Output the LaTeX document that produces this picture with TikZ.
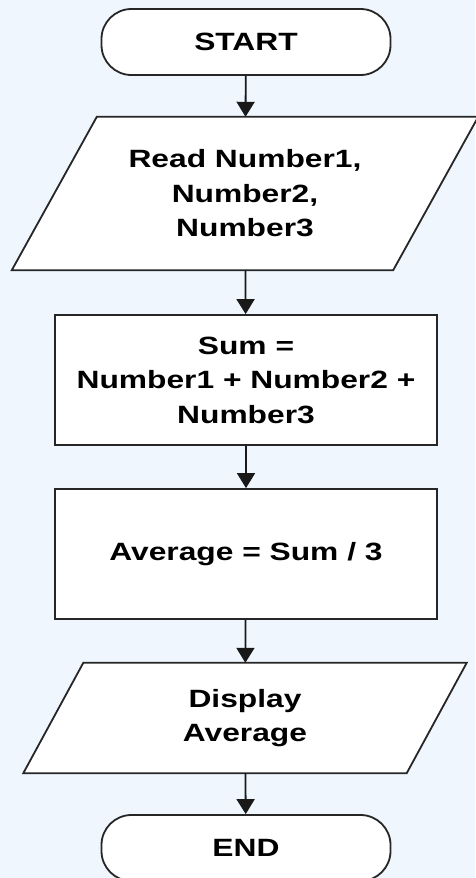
\documentclass[tikz,border=0pt]{standalone}
\usepackage{fontspec}
\setmainfont{Liberation Sans}[FakeStretch=1.27]
\usetikzlibrary{arrows.meta,backgrounds}
\definecolor{pagebg}{RGB}{239,246,253}
\tikzset{
    frame/.style={draw=black!85, line width=1.8pt, fill=white},
    flow/.style={align=center, inner sep=0pt,
        font=\fontsize{25}{34.5}\selectfont\bfseries},
    terminal/.style={flow, frame, rectangle, rounded corners=30pt,
        minimum width=289pt, minimum height=66pt},
    process/.style={flow, frame, rectangle, minimum width=382pt, minimum height=130pt},
    inout/.style={flow, rectangle},
    flowline/.style={draw=black!90, line width=1.8pt,
        -{Triangle[width=18pt,length=15pt]}}
}
% slanted in/out frame behind a node: #1 node, #2 half the slant
\newcommand{\ioframe}[2]{%
    \draw[frame] ([xshift=#2]#1.north west) -- ([xshift=#2]#1.north east)
        -- ([xshift=-#2]#1.south east) -- ([xshift=-#2]#1.south west) -- cycle;%
}

\begin{document}
\begin{tikzpicture}[x=1pt,y=1pt]
            % page and background
            \useasboundingbox (0,0) rectangle (475,-878);
            \clip (0,0) rectangle (475,-878);
            \begin{scope}[on background layer]
                \fill[pagebg] (0,0) rectangle (475,-878);
            \end{scope}
            % steps
            \node[terminal] (start) at (246,-42) {START};
            \node[inout, minimum width=381pt, minimum height=153pt] (read) at (245,-193.5)
                {Read Number1,\\ Number2,\\ Number3};
            \node[process] (sum) at (246,-380) {Sum =\\ Number1 + Number2 +\\ Number3};
            \node[process] (avg) at (246,-554) {Average = Sum / 3};
            \node[inout, minimum width=383pt, minimum height=110pt] (show) at (245,-718)
                {Display\\ Average};
            \node[terminal] (end) at (246,-848) {END};
            \begin{scope}[on background layer]
                \ioframe{read}{42.5pt}
                \ioframe{show}{30pt}
            \end{scope}
            % connectors
            \draw[flowline] (start) -- (read);
            \draw[flowline] (read) -- (sum);
            \draw[flowline] (sum) -- (avg);
            \draw[flowline] (avg) -- (show);
            \draw[flowline] (show) -- (end);
        \end{tikzpicture}
\end{document}
